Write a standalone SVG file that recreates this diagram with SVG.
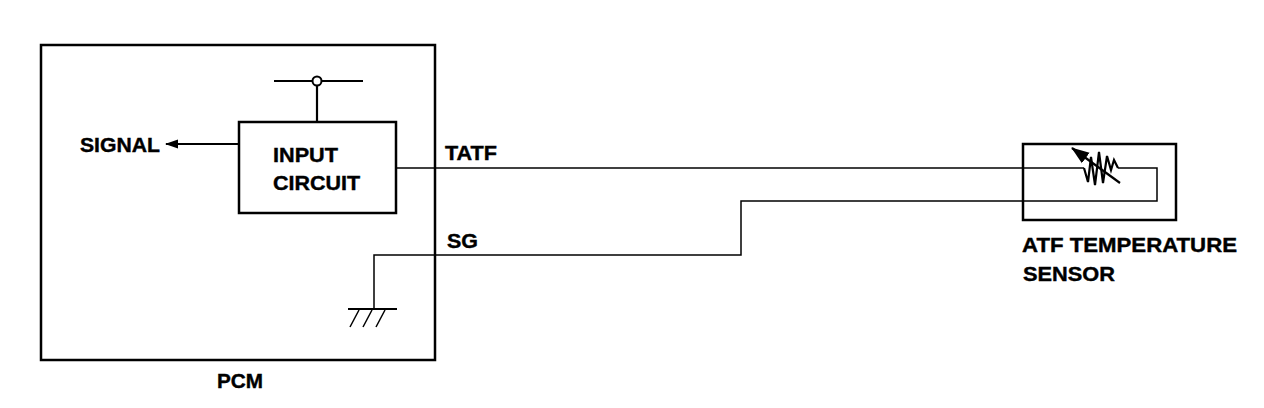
<svg xmlns="http://www.w3.org/2000/svg" width="1264" height="408" viewBox="0 0 1264 408">
<style>
.box{fill:none;stroke:#000;stroke-width:2.5}
.w{fill:none;stroke:#000;stroke-width:1.5}
.w2{fill:none;stroke:#000;stroke-width:2.2}
.t{font-family:"Liberation Sans",Arial,sans-serif;font-weight:bold;font-size:20px;fill:#000;stroke:#000;stroke-width:0.4}
</style>
<defs>
<marker id="ah" markerWidth="13" markerHeight="10" refX="12" refY="5" orient="auto" markerUnits="userSpaceOnUse">
<path d="M13,5 L0,0.5 L0,9.5 Z" fill="#000"/>
</marker>
<marker id="ah2" markerWidth="18" markerHeight="14" refX="17" refY="7" orient="auto" markerUnits="userSpaceOnUse">
<path d="M18,7 L0,0.5 L0,13.5 Z" fill="#000"/>
</marker>
</defs>
<rect width="1264" height="408" fill="#fff"/>
<g id="pcm">
<rect class="box" x="41" y="45" width="394" height="315"/>
<text class="t" x="217" y="388" textLength="46" lengthAdjust="spacingAndGlyphs">PCM</text>
</g>
<g id="input-circuit">
<rect class="box" x="239" y="122" width="157" height="91"/>
<text class="t" x="273" y="162" textLength="65" lengthAdjust="spacingAndGlyphs">INPUT</text>
<text class="t" x="273" y="190" textLength="87" lengthAdjust="spacingAndGlyphs">CIRCUIT</text>
</g>
<g id="supply">
<line class="w2" x1="274" y1="81" x2="312.5" y2="81"/>
<line class="w2" x1="321.5" y1="81" x2="363" y2="81"/>
<circle cx="317" cy="81" r="4.5" fill="#fff" stroke="#000" stroke-width="2"/>
<line class="w2" x1="317" y1="85.5" x2="317" y2="122"/>
</g>
<g id="signal">
<text class="t" x="80" y="152" textLength="80" lengthAdjust="spacingAndGlyphs">SIGNAL</text>
</g>
<g id="ground">
<line class="w2" x1="348" y1="309" x2="397" y2="309"/>
<line class="w" x1="359" y1="310" x2="350" y2="327"/>
<line class="w" x1="372" y1="310" x2="363" y2="327"/>
<line class="w" x1="385" y1="310" x2="376" y2="327"/>
</g>
<g id="sensor">
<rect class="box" x="1023" y="144" width="153" height="76"/>
<polyline class="w2" points="1084,168 1088,182 1091,157 1095,185 1099,152 1103,183 1107,156 1111,170 1114,160 1118,168"/>
<line class="w2" x1="1120" y1="183" x2="1072" y2="148" marker-end="url(#ah2)"/>
<text class="t" x="1022" y="252" textLength="215" lengthAdjust="spacingAndGlyphs">ATF TEMPERATURE</text>
<text class="t" x="1023" y="281" textLength="92" lengthAdjust="spacingAndGlyphs">SENSOR</text>
</g>
<g id="connectors">
<line class="w2" x1="239" y1="144" x2="166" y2="144" marker-end="url(#ah)"/>
<polyline class="w" points="396,168 1084,168"/>
<polyline class="w" points="1118,168 1157,168 1157,201 741,201 741,255 374,255 374,309"/>
<text class="t" x="445" y="160" textLength="52" lengthAdjust="spacingAndGlyphs">TATF</text>
<text class="t" x="447" y="248" textLength="31" lengthAdjust="spacingAndGlyphs">SG</text>
</g>
</svg>
